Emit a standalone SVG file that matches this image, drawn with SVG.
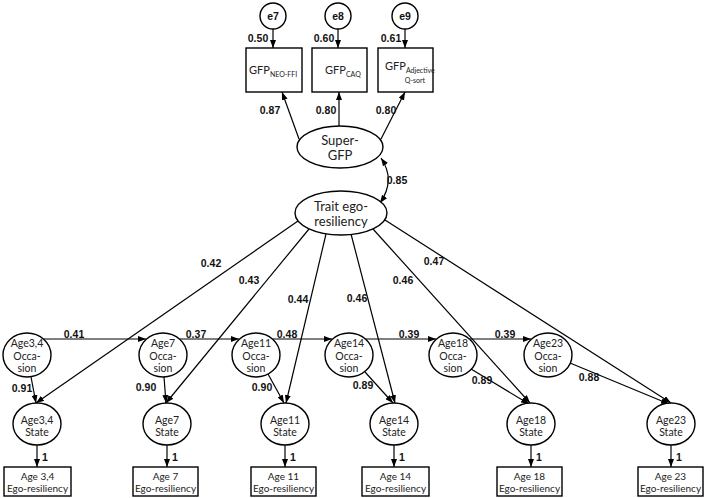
<svg xmlns="http://www.w3.org/2000/svg" width="708" height="498" viewBox="0 0 708 498">
<style>
.sh{fill:#fff;stroke:#000;stroke-width:1.4}
.t{font-family:Lato,"Liberation Sans",sans-serif;font-size:10.5px;text-anchor:middle;fill:#222}
.tb{font-family:Lato,"Liberation Sans",sans-serif;font-size:10px;text-anchor:middle;fill:#222}
.tl{font-family:Lato,"Liberation Sans",sans-serif;font-size:13px;text-anchor:middle;fill:#222}
.g{font-family:Lato,"Liberation Sans",sans-serif;font-size:11px;fill:#222}
.s{font-size:7px}
.b{font-family:"Liberation Sans",Arial,sans-serif;font-weight:bold;font-size:10.5px;text-anchor:middle;fill:#111}
.c line,.c path{stroke:#000;stroke-width:1.2;fill:none;marker-end:url(#a)}
</style>
<defs>
<marker id="a" markerUnits="userSpaceOnUse" markerWidth="8" markerHeight="6" refX="8" refY="3" orient="auto-start-reverse"><path d="M0,0 L8,3 L0,6 z" fill="#000"/></marker>
</defs>
<g class="c" id="connectors">
<line x1="273" y1="29" x2="273" y2="48"/>
<line x1="338" y1="29" x2="338" y2="48"/>
<line x1="405" y1="29" x2="405" y2="48"/>
<line x1="299" y1="139" x2="282" y2="92"/>
<line x1="339" y1="126" x2="339" y2="92"/>
<line x1="381" y1="139" x2="405" y2="92"/>
<path d="M381,158 Q396,180 380,203" marker-start="url(#a)"/>
<line x1="298" y1="221" x2="36" y2="403"/>
<line x1="309" y1="229" x2="166" y2="403"/>
<line x1="326" y1="234" x2="286" y2="403"/>
<line x1="351" y1="234" x2="395" y2="403"/>
<line x1="373" y1="229" x2="530" y2="403"/>
<line x1="385" y1="220" x2="671" y2="403"/>
<line x1="31" y1="377" x2="36" y2="403"/>
<line x1="164" y1="377" x2="166" y2="403"/>
<line x1="268" y1="374" x2="284" y2="403"/>
<line x1="365" y1="372" x2="393" y2="403"/>
<line x1="471" y1="369" x2="529" y2="404"/>
<line x1="570" y1="363" x2="669" y2="404"/>
<line x1="44" y1="339" x2="146" y2="339"/>
<line x1="180" y1="339" x2="239" y2="339"/>
<line x1="273" y1="339" x2="332" y2="339"/>
<line x1="366" y1="339" x2="436" y2="339"/>
<line x1="470" y1="339" x2="531" y2="339"/>
<line x1="37" y1="445" x2="37" y2="467"/>
<line x1="167" y1="445" x2="167" y2="467"/>
<line x1="285" y1="445" x2="285" y2="467"/>
<line x1="394" y1="445" x2="394" y2="467"/>
<line x1="531" y1="445" x2="531" y2="467"/>
<line x1="671" y1="445" x2="671" y2="467"/>
</g>
<g id="labels">
<text class="b" x="258" y="42">0.50</text>
<text class="b" x="324" y="42">0.60</text>
<text class="b" x="391" y="42">0.61</text>
<text class="b" x="270" y="114">0.87</text>
<text class="b" x="326" y="114">0.80</text>
<text class="b" x="386" y="114">0.80</text>
<text class="b" x="397" y="184">0.85</text>
<text class="b" x="211" y="267">0.42</text>
<text class="b" x="249" y="284">0.43</text>
<text class="b" x="298" y="303">0.44</text>
<text class="b" x="357" y="302">0.46</text>
<text class="b" x="403" y="284">0.46</text>
<text class="b" x="434" y="265">0.47</text>
<text class="b" x="74" y="338">0.41</text>
<text class="b" x="196" y="338">0.37</text>
<text class="b" x="287" y="338">0.48</text>
<text class="b" x="409" y="338">0.39</text>
<text class="b" x="505" y="338">0.39</text>
<text class="b" x="22" y="392">0.91</text>
<text class="b" x="146" y="391">0.90</text>
<text class="b" x="262" y="391">0.90</text>
<text class="b" x="363" y="389">0.89</text>
<text class="b" x="482" y="384">0.89</text>
<text class="b" x="589" y="381">0.88</text>
<text class="b" x="45" y="461">1</text>
<text class="b" x="175" y="461">1</text>
<text class="b" x="293" y="461">1</text>
<text class="b" x="402" y="461">1</text>
<text class="b" x="539" y="461">1</text>
<text class="b" x="679" y="461">1</text>
</g>
<g id="e7"><circle class="sh" cx="273" cy="16" r="13"/><text class="b" x="273" y="20">e7</text></g>
<g id="e8"><circle class="sh" cx="338" cy="16" r="13"/><text class="b" x="338" y="20">e8</text></g>
<g id="e9"><circle class="sh" cx="405" cy="16" r="13"/><text class="b" x="405" y="20">e9</text></g>
<g id="gfp-neo"><rect class="sh" x="246" y="48" width="56" height="44"/><text class="g" x="249" y="74">GFP<tspan class="s" dy="3">NEO-FFI</tspan></text></g>
<g id="gfp-caq"><rect class="sh" x="312" y="48" width="55" height="44"/><text class="g" x="325" y="74">GFP<tspan class="s" dy="3">CAQ</tspan></text></g>
<g id="gfp-adj"><rect class="sh" x="378" y="48" width="55" height="44"/><text class="g" x="385" y="70">GFP<tspan class="s" dy="3">Adjective</tspan></text><text class="g s" x="415" y="83" text-anchor="middle">Q-sort</text></g>
<g id="super-gfp"><ellipse class="sh" cx="340" cy="147" rx="43" ry="21"/><text class="tl" x="340" y="145">Super-</text><text class="tl" x="340" y="160">GFP</text></g>
<g id="trait"><ellipse class="sh" cx="341" cy="213" rx="46" ry="22"/><text class="tl" x="341" y="211">Trait ego-</text><text class="tl" x="341" y="226">resiliency</text></g>
<g id="occ34"><ellipse class="sh" cx="27" cy="355" rx="24" ry="22"/><text class="t" x="27" y="347">Age3,4</text><text class="t" x="27" y="360">Occa-</text><text class="t" x="27" y="372">sion</text></g>
<g id="occ7"><ellipse class="sh" cx="163" cy="355" rx="24" ry="22"/><text class="t" x="163" y="347">Age7</text><text class="t" x="163" y="360">Occa-</text><text class="t" x="163" y="372">sion</text></g>
<g id="occ11"><ellipse class="sh" cx="256" cy="355" rx="24" ry="22"/><text class="t" x="256" y="347">Age11</text><text class="t" x="256" y="360">Occa-</text><text class="t" x="256" y="372">sion</text></g>
<g id="occ14"><ellipse class="sh" cx="349" cy="355" rx="24" ry="22"/><text class="t" x="349" y="347">Age14</text><text class="t" x="349" y="360">Occa-</text><text class="t" x="349" y="372">sion</text></g>
<g id="occ18"><ellipse class="sh" cx="453" cy="355" rx="24" ry="22"/><text class="t" x="453" y="347">Age18</text><text class="t" x="453" y="360">Occa-</text><text class="t" x="453" y="372">sion</text></g>
<g id="occ23"><ellipse class="sh" cx="548" cy="355" rx="24" ry="22"/><text class="t" x="548" y="347">Age23</text><text class="t" x="548" y="360">Occa-</text><text class="t" x="548" y="372">sion</text></g>
<g id="st34"><ellipse class="sh" cx="37" cy="424" rx="24" ry="21"/><text class="t" x="37" y="424">Age3,4</text><text class="t" x="37" y="436">State</text></g>
<g id="st7"><ellipse class="sh" cx="167" cy="424" rx="24" ry="21"/><text class="t" x="167" y="424">Age7</text><text class="t" x="167" y="436">State</text></g>
<g id="st11"><ellipse class="sh" cx="285" cy="424" rx="24" ry="21"/><text class="t" x="285" y="424">Age11</text><text class="t" x="285" y="436">State</text></g>
<g id="st14"><ellipse class="sh" cx="394" cy="424" rx="24" ry="21"/><text class="t" x="394" y="424">Age14</text><text class="t" x="394" y="436">State</text></g>
<g id="st18"><ellipse class="sh" cx="531" cy="424" rx="24" ry="21"/><text class="t" x="531" y="424">Age18</text><text class="t" x="531" y="436">State</text></g>
<g id="st23"><ellipse class="sh" cx="671" cy="424" rx="24" ry="21"/><text class="t" x="671" y="424">Age23</text><text class="t" x="671" y="436">State</text></g>
<g id="ob34"><rect class="sh" x="4" y="467" width="67" height="29"/><text class="tb" x="37.5" y="480">Age 3,4</text><text class="tb" x="37.5" y="492">Ego-resiliency</text></g>
<g id="ob7"><rect class="sh" x="133" y="467" width="65" height="29"/><text class="tb" x="165.5" y="480">Age 7</text><text class="tb" x="165.5" y="492">Ego-resiliency</text></g>
<g id="ob11"><rect class="sh" x="251" y="467" width="65" height="29"/><text class="tb" x="283.5" y="480">Age 11</text><text class="tb" x="283.5" y="492">Ego-resiliency</text></g>
<g id="ob14"><rect class="sh" x="362" y="467" width="67" height="29"/><text class="tb" x="395.5" y="480">Age 14</text><text class="tb" x="395.5" y="492">Ego-resiliency</text></g>
<g id="ob18"><rect class="sh" x="497" y="467" width="65" height="29"/><text class="tb" x="529.5" y="480">Age 18</text><text class="tb" x="529.5" y="492">Ego-resiliency</text></g>
<g id="ob23"><rect class="sh" x="638" y="467" width="65" height="29"/><text class="tb" x="670.5" y="480">Age 23</text><text class="tb" x="670.5" y="492">Ego-resiliency</text></g>
</svg>
